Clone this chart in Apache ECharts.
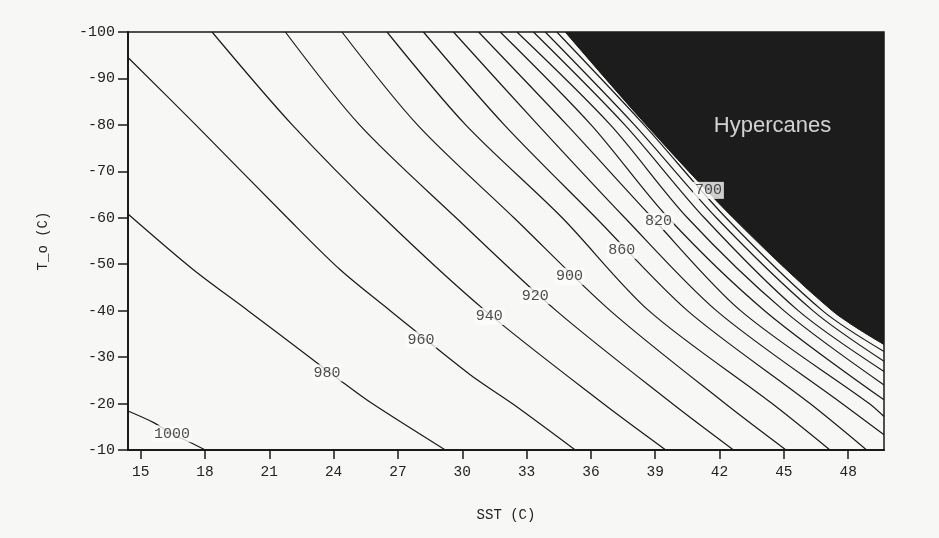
<!DOCTYPE html>
<html>
<head>
<meta charset="utf-8">
<script src="https://cdn.jsdelivr.net/npm/echarts@6/dist/echarts.min.js"></script>
<style>
html,body{margin:0;padding:0;background:#f7f7f5;}
#c{width:939px;height:538px;}
</style>
</head>
<body>
<div id="c"></div>
<script>
// Axis ticks
const sstTicks = [15, 18, 21, 24, 27, 30, 33, 36, 39, 42, 45, 48];
const sstRange = [14.41, 49.67];
const toRange = [-100, -10];

// Contour lines: [SST (C), T_o (C)] points
const c1000 = [[14.41,-18.4],[15.61,-15.9],[16.46,-13.5],[17.32,-11.6],[18.02,-10]];
const c980 = [[14.41,-60.8],[17.46,-48.8],[20.01,-40.0],[23.05,-29.4],[24.45,-24.5],[25.80,-20.0],[29.21,-10]];
const c960 = [[14.41,-94.5],[17.57,-80],[21.84,-60],[24.31,-48.8],[26.64,-40],[30.37,-26.2],[32.33,-20],[35.27,-10]];
const c940 = [[18.33,-100],[22.07,-80],[26.34,-60],[31.07,-40],[36.57,-20],[39.49,-10]];
const c920 = [[21.75,-100],[25.21,-80],[29.71,-60],[34.38,-40],[39.79,-20],[42.65,-10]];
const c900 = [[24.39,-100],[27.91,-80],[32.41,-60],[36.90,-40],[42.26,-20],[45.10,-10]];
const c880 = [[26.49,-100],[30.16,-80],[34.66,-60],[38.70,-40],[44.45,-20],[47.15,-10]];
const c860 = [[28.19,-100],[31.96,-80],[36.23,-60],[40.50,-40],[46.22,-20],[48.86,-10]];
const c840 = [[29.59,-100],[33.53,-80],[37.58,-60],[41.85,-40],[47.71,-20],[49.67,-13.3]];
const c820 = [[30.76,-100],[34.88,-80],[38.86,-60],[42.98,-40],[48.98,-20],[49.67,-17.2]];
const c800 = [[31.77,-100],[36.01,-80],[39.60,-60],[44.10,-40],[49.67,-20.8]];
const c780 = [[32.55,-100],[36.91,-80],[40.50,-60],[45.00,-40],[49.67,-24.0]];
const c760 = [[33.32,-100],[37.58,-80],[41.29,-60],[45.67,-40],[49.67,-26.9]];
const c740 = [[33.87,-100],[38.03,-80],[41.85,-60],[46.35,-40],[49.67,-29.1]];
const c720 = [[34.41,-100],[38.48,-80],[42.30,-60],[46.80,-40],[49.67,-31.2]];
// 700 hPa contour = edge of the hypercane region
const c700 = [[34.80,-100],[38.58,-80],[42.63,-60],[47.25,-40],[49.67,-32.7]];

const contours = [c1000,c980,c960,c940,c920,c900,c880,c860,c840,c820,c800,c780,c760,c740,c720];

// Contour labels
const labelText = ['1000','980','960','940','920','900','860','820','700'];
const labelSST  = [16.46, 23.69, 28.07, 31.26, 33.40, 35.00, 37.44, 39.15, 41.48];
const labelTo   = [-13.5, -26.6, -33.7, -38.75, -43.2, -47.4, -53.0, -59.2, -65.9];

// Region annotation
const regionText = ['Hypercanes'];
const regionSST = [44.47];
const regionTo = [-79.7];

const BG = '#f7f7f5';
const INK = '#1a1a1a';
const MONO = '"Liberation Mono", "DejaVu Sans Mono", monospace';

const series = [];
series.push({
  type: 'line', data: c700, showSymbol: false, silent: true, smooth: 0.3, z: 1,
  lineStyle: {color: '#1c1c1c', width: 1},
  areaStyle: {color: '#1c1c1c', opacity: 1, origin: 'start'}
});
contours.forEach(function (c) {
  series.push({
    type: 'line', data: c, showSymbol: false, silent: true, smooth: 0.3, z: 2,
    lineStyle: {color: INK, width: 1.2}
  });
});
series.push({
  type: 'scatter', z: 5, symbolSize: 1, itemStyle: {color: 'rgba(0,0,0,0)'},
  data: labelText.map(function (t, i) { return [labelSST[i], labelTo[i], t]; }),
  label: {
    show: true, position: 'inside', formatter: function (p) { return p.value[2]; },
    fontFamily: MONO, fontSize: 15, color: '#222',
    backgroundColor: '#fbfbfa', padding: [1, 2]
  }
});
series.push({
  type: 'scatter', z: 5, symbolSize: 1, itemStyle: {color: 'rgba(0,0,0,0)'},
  data: regionText.map(function (t, i) { return [regionSST[i], regionTo[i], t]; }),
  label: {
    show: true, position: 'inside', formatter: function (p) { return p.value[2]; },
    fontFamily: '"Liberation Sans", Arial, sans-serif', fontSize: 22, color: '#ffffff'
  }
});

const chart = echarts.init(document.getElementById('c'), null, {renderer: 'canvas'});
chart.setOption({
  backgroundColor: BG,
  animation: false,
  grid: {left: 128, right: 55, top: 32, bottom: 88, show: true, borderColor: INK, borderWidth: 1.5},
  xAxis: {
    type: 'value', min: sstRange[0], max: sstRange[1],
    name: 'SST (C)', nameLocation: 'middle', nameGap: 58,
    nameTextStyle: {fontFamily: MONO, fontSize: 14, color: '#222'},
    axisLine: {show: true, lineStyle: {color: INK, width: 2}},
    axisTick: {show: true, length: 9, lineStyle: {color: INK, width: 1.5}, customValues: sstTicks},
    axisLabel: {fontFamily: MONO, fontSize: 14.5, color: '#222', margin: 15, customValues: sstTicks},
    splitLine: {show: false}
  },
  yAxis: {
    type: 'value', min: toRange[0], max: toRange[1], interval: 10, inverse: true,
    name: 'T_o (C)', nameLocation: 'middle', nameGap: 78, nameRotate: 90,
    nameTextStyle: {fontFamily: MONO, fontSize: 14, color: '#222'},
    axisLine: {show: true, lineStyle: {color: INK, width: 2}},
    axisTick: {show: true, length: 10, lineStyle: {color: INK, width: 1.5}},
    axisLabel: {fontFamily: MONO, fontSize: 15, color: '#222', margin: 13},
    splitLine: {show: false}
  },
  series: series
});
</script>
</body>
</html>
